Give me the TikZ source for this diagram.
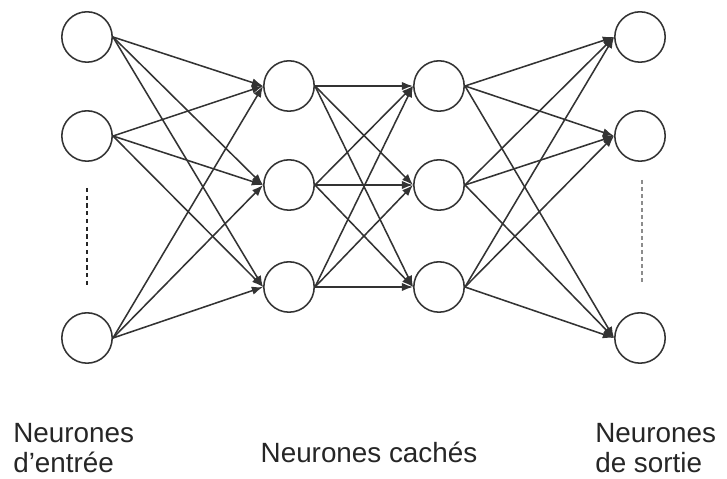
\documentclass[tikz,border=0pt]{standalone}
\usepackage{fontspec}
\setmainfont{Liberation Sans}
\usetikzlibrary{arrows.meta, positioning, calc}

\begin{document}
\begin{tikzpicture}[
  neuron/.style={draw=black!80, circle, minimum size=12.6mm, inner sep=0pt, line width=1.1pt},
  arc/.style={-{Latex[length=2.8mm, width=2.1mm]}, line width=1.1pt, draw=black!80},
  label/.style={align=left, inner sep=0pt, text=black!85, font=\fontsize{19.8pt}{21.5pt}\selectfont}]
  \useasboundingbox (0,0) rectangle (18.175,11.975);
  % entree
  \node[neuron] (i1) at (2.175,11.05)  {};
  \node[neuron] (i2) at (2.175,8.575)  {};
  \node[neuron] (i3) at (2.175,3.525)  {};
  % caches
  \node[neuron] (a1) at (7.225,9.825)  {};
  \node[neuron] (a2) at (7.225,7.35)   {};
  \node[neuron] (a3) at (7.225,4.8)    {};
  \node[neuron] (b1) at (10.975,9.825) {};
  \node[neuron] (b2) at (10.975,7.35)  {};
  \node[neuron] (b3) at (10.975,4.8)   {};
  % sortie
  \node[neuron] (s1) at (16.0,11.05)   {};
  \node[neuron] (s2) at (16.0,8.575)   {};
  \node[neuron] (s3) at (16.0,3.525)   {};
  \coordinate (di1) at (2.175,7.275);
  \coordinate (di2) at (2.175,4.8);
  \coordinate (ds1) at (16.05,7.475);
  \coordinate (ds2) at (16.05,4.85);
  \draw[arc] (i1.east) -- (a1.west);
  \draw[arc] (i1.east) -- (a2.west);
  \draw[arc] (i1.east) -- (a3.west);
  \draw[arc] (i2.east) -- (a1.west);
  \draw[arc] (i2.east) -- (a2.west);
  \draw[arc] (i2.east) -- (a3.west);
  \draw[arc] (i3.east) -- (a1.west);
  \draw[arc] (i3.east) -- (a2.west);
  \draw[arc] (i3.east) -- (a3.west);
  \draw[arc] (a1.east) -- (b1.west);
  \draw[arc] (a1.east) -- (b2.west);
  \draw[arc] (a1.east) -- (b3.west);
  \draw[arc] (a2.east) -- (b1.west);
  \draw[arc] (a2.east) -- (b2.west);
  \draw[arc] (a2.east) -- (b3.west);
  \draw[arc] (a3.east) -- (b1.west);
  \draw[arc] (a3.east) -- (b2.west);
  \draw[arc] (a3.east) -- (b3.west);
  \draw[arc] (b1.east) -- (s1.west);
  \draw[arc] (b1.east) -- (s2.west);
  \draw[arc] (b1.east) -- (s3.west);
  \draw[arc] (b2.east) -- (s1.west);
  \draw[arc] (b2.east) -- (s2.west);
  \draw[arc] (b2.east) -- (s3.west);
  \draw[arc] (b3.east) -- (s1.west);
  \draw[arc] (b3.east) -- (s2.west);
  \draw[arc] (b3.east) -- (s3.west);
  \draw[line width=1.4pt, black!85, dash pattern=on 3pt off 2.5pt] (di1) -- (di2);
  \draw[line width=0.9pt, black!45, dash pattern=on 2.5pt off 2.5pt] (ds1) -- (ds2);
  % legendes
  \node[label, anchor=base west] (le) at (0.325,0.15)  {Neurones\\d’entrée};
  \node[label, anchor=base]      (lc) at (9.225,0.4)   {Neurones cachés};
  \node[label, anchor=base west] (ls) at (14.875,0.15) {Neurones\\de sortie};
\end{tikzpicture}
\end{document}
